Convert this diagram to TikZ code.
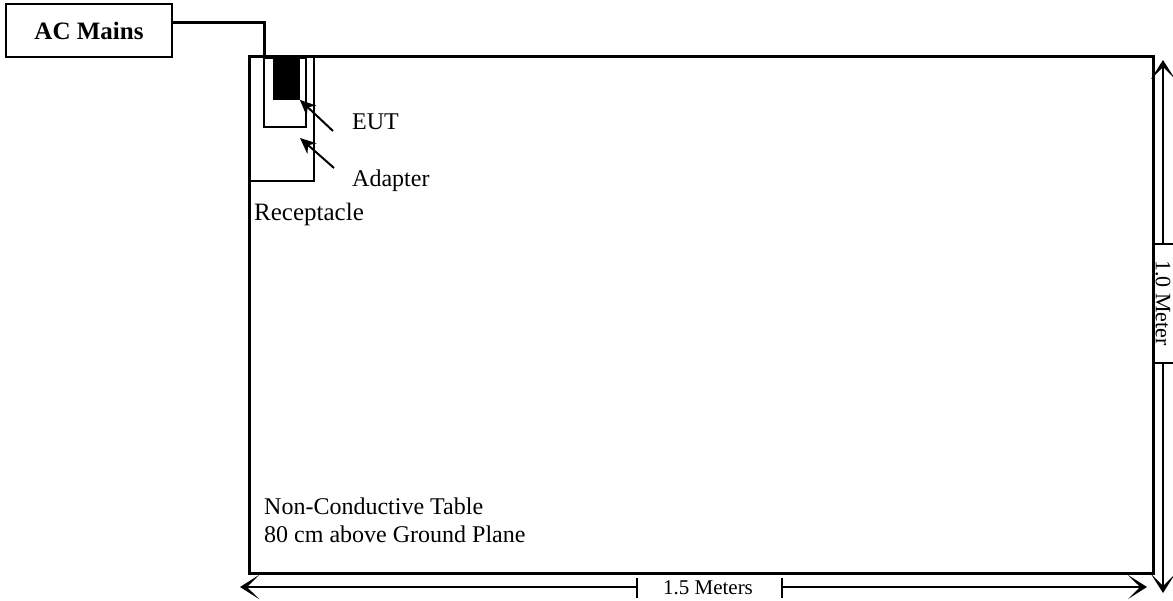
\documentclass[tikz,border=0pt]{standalone}
\usepackage{fontspec}
\setmainfont{Liberation Serif}
\usetikzlibrary{arrows.meta,positioning,calc}

\begin{document}
\begin{tikzpicture}[x=1pt, y=-1pt,
  mains/.style={draw, line width=2pt, minimum width=166pt, minimum height=53pt, inner sep=0pt, font=\fontsize{25}{29}\selectfont\bfseries},
  wire/.style={line width=3pt},
  bench/.style={draw, line width=3pt},
  part/.style={draw, line width=1.8pt, inner sep=0pt, anchor=north west},
  lbl/.style={inner sep=0pt, anchor=base west, font=\fontsize{24}{28}\selectfont},
  ptr/.style={-{Stealth[length=16pt, width=14pt]}, line width=2pt},
  dimtxt/.style={inner sep=0pt, font=\fontsize{21}{25}\selectfont},
  dim/.style={-{Stealth[length=19pt, width=24pt, inset=12pt]}, line width=1.8pt},
  tick/.style={line width=2pt}
]
\useasboundingbox (0,0) rectangle (1173,600);

% AC supply
\node[mains] (mains) at (89,30.5) {AC Mains};
\coordinate (plug) at (264,57);
\draw[wire] ($(mains.north east)!0.35!(mains.south east)$) -| (plug);

% Table top
\draw[bench] (249,56) rectangle (1153,573);

% Receptacle, adapter and EUT
\node[part, minimum width=64pt, minimum height=124pt] (recept) at (249,56) {};
\node[part, minimum width=42pt, minimum height=69pt] (adapter) at (263,57) {};
\node[part, fill=black, minimum width=25pt, minimum height=40pt] (eut) at (273,58) {};

% Labels
\node[lbl] (eutlbl) at (352,129) {EUT};
\node[lbl] (adaptlbl) at (352,186) {Adapter};
\node[lbl, font=\fontsize{25}{29}\selectfont] (receptlbl) at (254,220) {Receptacle};
\node[lbl] (tablelbl) at (264,514) {Non-Conductive Table};
\node[lbl] (heightlbl) at (264,542) {80 cm above Ground Plane};

% Pointers
\coordinate (euttail) at (333,131);
\coordinate (adapttail) at (334,168);
\coordinate (adapttip) at (300,138);
\draw[ptr] (euttail) -- (eut.south east);
\draw[ptr] (adapttail) -- (adapttip);

% Width dimension
\node[dimtxt] (widthlbl) at (708,588) {1.5 Meters};
\coordinate (wl) at (637,587);
\coordinate (wr) at (782,587);
\coordinate (wlend) at (240,587);
\coordinate (wrend) at (1147,587);
\draw[dim] (wl) -- (wlend);
\draw[dim] (wr) -- (wrend);
\draw[tick] ($(wl)+(0,-9)$) -- ($(wl)+(0,11)$);
\draw[tick] ($(wr)+(0,-9)$) -- ($(wr)+(0,11)$);

% Depth dimension
\node[dimtxt, font=\fontsize{22}{26}\selectfont, rotate=-90] (depthlbl) at (1163,303) {1.0 Meter};
\coordinate (dt) at (1163,244);
\coordinate (db) at (1163,363);
\coordinate (dtend) at (1163,60);
\coordinate (dbend) at (1163,593);
\draw[dim, line width=1.4pt] (dt) -- (dtend);
\draw[dim, line width=1.4pt] (db) -- (dbend);
\draw[tick] ($(dt)+(-10,0)$) -- ($(dt)+(12,0)$);
\draw[tick] ($(db)+(-10,0)$) -- ($(db)+(12,0)$);
\end{tikzpicture}
\end{document}
